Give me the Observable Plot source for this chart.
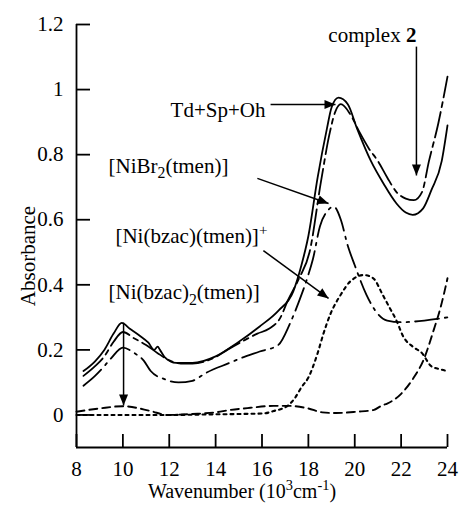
<!DOCTYPE html>
<html><head><meta charset="utf-8">
<script src="https://cdn.jsdelivr.net/npm/d3@7"></script>
<script src="https://cdn.jsdelivr.net/npm/@observablehq/plot@0.6"></script>
<style>
html,body{margin:0;padding:0;background:#fff;}
#chart svg, #chart svg text, #chart svg tspan { font-family: "Liberation Serif", "Times New Roman", serif !important; }
</style>
</head><body><div id="chart"></div>
<script>
// ---- axis ticks ----
const xTicks = [8, 10, 12, 14, 16, 18, 20, 22, 24];
const yTicks = [0, 0.2, 0.4, 0.6, 0.8, 1, 1.2];

// ---- series: complex 2 (solid) ----
const complexX = [8.3, 8.8, 9.2, 9.6, 9.95, 10.3, 10.7, 11.1, 11.35, 11.5, 11.6, 11.8, 12.3, 13.0, 14.0, 14.9, 15.9, 16.7, 17.35, 17.7, 18.0, 18.4, 18.8, 19.0, 19.3, 19.7, 20.1, 20.7, 21.25, 21.8, 22.2, 22.5, 22.95, 23.3, 23.75, 24.0];
const complexY = [0.135, 0.165, 0.2, 0.25, 0.283, 0.265, 0.245, 0.222, 0.2, 0.21, 0.2, 0.178, 0.16, 0.16, 0.18, 0.22, 0.272, 0.32, 0.38, 0.46, 0.55, 0.73, 0.88, 0.945, 0.975, 0.955, 0.88, 0.78, 0.71, 0.65, 0.622, 0.615, 0.635, 0.69, 0.78, 0.89];

// ---- series: Td+Sp+Oh (long dash) ----
const sumX = [8.3, 8.8, 9.2, 9.6, 10.0, 10.5, 11.0, 11.5, 12.0, 12.5, 13.0, 14.0, 14.5, 15.2, 15.8, 16.3, 16.8, 17.1, 17.6, 18.05, 18.55, 18.9, 19.15, 19.4, 19.8, 20.2, 20.6, 21.0, 21.4, 21.8, 22.2, 22.55, 22.9, 23.2, 23.6, 24.0];
const sumY = [0.12, 0.15, 0.18, 0.225, 0.255, 0.235, 0.215, 0.19, 0.168, 0.158, 0.158, 0.178, 0.2, 0.228, 0.25, 0.265, 0.3, 0.35, 0.42, 0.5, 0.72, 0.86, 0.93, 0.955, 0.925, 0.87, 0.82, 0.78, 0.73, 0.685, 0.665, 0.66, 0.685, 0.78, 0.895, 1.04];

// ---- series: [NiBr2(tmen)] (dash-dot) ----
const nibrX = [8.3, 8.8, 9.2, 9.5, 10.0, 10.5, 10.9, 11.2, 11.8, 12.4, 13.0, 13.6, 14.6, 15.1, 15.9, 16.7, 17.2, 17.6, 17.95, 18.2, 18.5, 18.8, 19.1, 19.4, 19.7, 20.0, 20.5, 21.0, 21.4, 22.0, 23.0, 24.0];
const nibrY = [0.09, 0.12, 0.15, 0.175, 0.207, 0.19, 0.167, 0.135, 0.11, 0.1, 0.105, 0.13, 0.16, 0.175, 0.195, 0.215, 0.28, 0.35, 0.42, 0.48, 0.58, 0.625, 0.64, 0.6, 0.52, 0.46, 0.37, 0.31, 0.29, 0.285, 0.29, 0.3];

// ---- series: [Ni(bzac)(tmen)]+ (dotted) ----
const bzacX = [8.0, 10, 12, 14, 15.1, 16.1, 16.5, 17.1, 17.4, 17.7, 18.0, 18.4, 18.65, 18.95, 19.4, 19.8, 20.4, 20.8, 21.2, 21.5, 21.8, 22.1, 22.5, 22.9, 23.3, 23.7, 24.0];
const bzacY = [0.0, 0.0, 0.0, 0.002, 0.003, 0.005, 0.012, 0.028, 0.05, 0.085, 0.115, 0.19, 0.25, 0.31, 0.37, 0.41, 0.43, 0.42, 0.37, 0.33, 0.29, 0.24, 0.21, 0.19, 0.15, 0.14, 0.135];

// ---- series: [Ni(bzac)2(tmen)] (dashed) ----
const bzac2X = [8.0, 9.0, 10.0, 11.2, 11.9, 13.0, 14.0, 14.6, 15.5, 16.5, 17.1, 18.0, 18.6, 19.2, 20.1, 20.8, 21.2, 21.4, 22.0, 22.5, 23.0, 23.4, 23.7, 24.0];
const bzac2Y = [0.01, 0.02, 0.027, 0.012, 0.0, 0.003, 0.008, 0.015, 0.022, 0.028, 0.028, 0.02, 0.008, 0.006, 0.01, 0.015, 0.03, 0.035, 0.065, 0.11, 0.175, 0.26, 0.33, 0.42];

// ---- annotations ----
const labelText = ["complex *{2}", "Td+Sp+Oh", "[NiBr_{2}(tmen)]", "[Ni(bzac)(tmen)]^{+}", "[Ni(bzac)_{2}(tmen)]"];
const labelX = [22.66, 16.15, 9.38, 9.68, 9.38];
const labelY = [1.166, 0.936, 0.764, 0.548, 0.376];
const labelAnchor = ["end", "end", "start", "start", "start"];
const arrowX1 = [22.66, 16.37, 15.8, 16.06, 10.03];
const arrowY1 = [1.132, 0.954, 0.727, 0.505, 0.284];
const arrowX2 = [22.66, 19.17, 18.87, 18.87, 10.03];
const arrowY2 = [0.736, 0.954, 0.65, 0.358, 0.029];

const series = [
  {x: complexX, y: complexY, dash: null, w: 1.8},
  {x: sumX, y: sumY, dash: "26,5,5,5", w: 1.8},
  {x: nibrX, y: nibrY, dash: "24,6,2.5,6", w: 1.8},
  {x: bzacX, y: bzacY, dash: "3,4", w: 2.1},
  {x: bzac2X, y: bzac2Y, dash: "8,5", w: 1.9}
];

const FONT = "Liberation Serif";
const idx = labelText.map((_, i) => i);
const idxEnd = idx.filter(i => labelAnchor[i] === "end");
const idxStart = idx.filter(i => labelAnchor[i] === "start");

const lineMarks = series.map(s => Plot.line(s.x.map((_, i) => i), {
  x: i => s.x[i], y: i => s.y[i], curve: "monotone-x",
  stroke: "black", strokeWidth: s.w, strokeDasharray: s.dash
}));

const labelOpts = {x: i => labelX[i], y: i => labelY[i], text: i => labelText[i], fontSize: 21, fill: "black"};

const chart = Plot.plot({
  width: 462, height: 506,
  marginLeft: 76, marginRight: 15, marginTop: 24, marginBottom: 59,
  x: {domain: [8, 24]},
  y: {domain: [-0.1, 1.2]},
  style: {fontFamily: FONT, fontSize: "21px", background: "white", color: "black", overflow: "visible"},
  marks: [
    Plot.axisX({ticks: xTicks, tickSize: 0, tickPadding: 14, label: null, fontSize: 21, tickFormat: d => String(d)}),
    Plot.axisY({ticks: yTicks, tickSize: 0, tickPadding: 13, label: null, fontSize: 21, tickFormat: d => String(d)}),
    Plot.tickX(xTicks, {x: d => d, insetTop: 410, strokeWidth: 1.8}),
    Plot.tickY(yTicks, {y: d => d, insetRight: 357, strokeWidth: 1.8}),
    Plot.ruleX([8], {strokeWidth: 1.8}),
    Plot.ruleY([-0.1], {strokeWidth: 1.8}),
    ...lineMarks,
    Plot.link(idx, {x1: i => arrowX1[i], y1: i => arrowY1[i], x2: i => arrowX2[i], y2: i => arrowY2[i],
      stroke: "black", strokeWidth: 1.5, markerEnd: "arrow"}),
    Plot.text(idxEnd, {...labelOpts, textAnchor: "end"}),
    Plot.text(idxStart, {...labelOpts, textAnchor: "start"}),
    Plot.text(["Absorbance"], {text: d => d, frameAnchor: "left", textAnchor: "middle", lineAnchor: "middle",
      rotate: -90, dx: -48, dy: 20, fontSize: 21, fill: "black"}),
    Plot.text(["Wavenumber (10^{3}cm^{-1})"], {text: d => d, frameAnchor: "bottom", textAnchor: "middle", lineAnchor: "middle",
      dx: -20, dy: 44, fontSize: 20, fill: "black"})
  ]
});

document.getElementById("chart").appendChild(chart);
chart.setAttribute("font-family", FONT);

// filled triangular arrow heads
const NS = "http://www.w3.org/2000/svg";
chart.querySelectorAll("marker").forEach(mk => {
  mk.setAttribute("viewBox", "-12 -5 13 10");
  mk.setAttribute("markerUnits", "userSpaceOnUse");
  mk.setAttribute("markerWidth", "13");
  mk.setAttribute("markerHeight", "10");
  mk.setAttribute("refX", "0");
  mk.setAttribute("refY", "0");
  mk.setAttribute("orient", "auto");
  mk.setAttribute("fill", "black");
  mk.setAttribute("stroke", "none");
  while (mk.firstChild) mk.removeChild(mk.firstChild);
  const p = document.createElementNS(NS, "path");
  p.setAttribute("d", "M-11,-4.5L0,0L-11,4.5Z");
  mk.appendChild(p);
});

// rich text: _{sub}, ^{sup}, *{bold}
chart.querySelectorAll("text").forEach(t => {
  if (t.querySelector("tspan")) return;
  const s = t.textContent;
  if (!/[_^*]\{/.test(s)) return;
  const fs = parseFloat(getComputedStyle(t).fontSize) || 21;
  t.textContent = "";
  const re = /([_^*])\{([^}]*)\}/g;
  let last = 0, m, shift = 0;
  const add = (txt, type) => {
    const ts = document.createElementNS(NS, "tspan");
    ts.textContent = txt;
    let target = 0;
    if (type === "_") { target = 0.25 * fs; ts.setAttribute("font-size", (0.75 * fs).toFixed(1)); }
    else if (type === "^") { target = -0.4 * fs; ts.setAttribute("font-size", (0.72 * fs).toFixed(1)); }
    else if (type === "*") { ts.setAttribute("font-weight", "bold"); }
    const d = target - shift;
    if (d) ts.setAttribute("dy", d.toFixed(2));
    shift = target;
    t.appendChild(ts);
  };
  while ((m = re.exec(s))) {
    if (m.index > last) add(s.slice(last, m.index), "");
    add(m[2], m[1]);
    last = re.lastIndex;
  }
  if (last < s.length) add(s.slice(last), "");
});
</script>
</body></html>
